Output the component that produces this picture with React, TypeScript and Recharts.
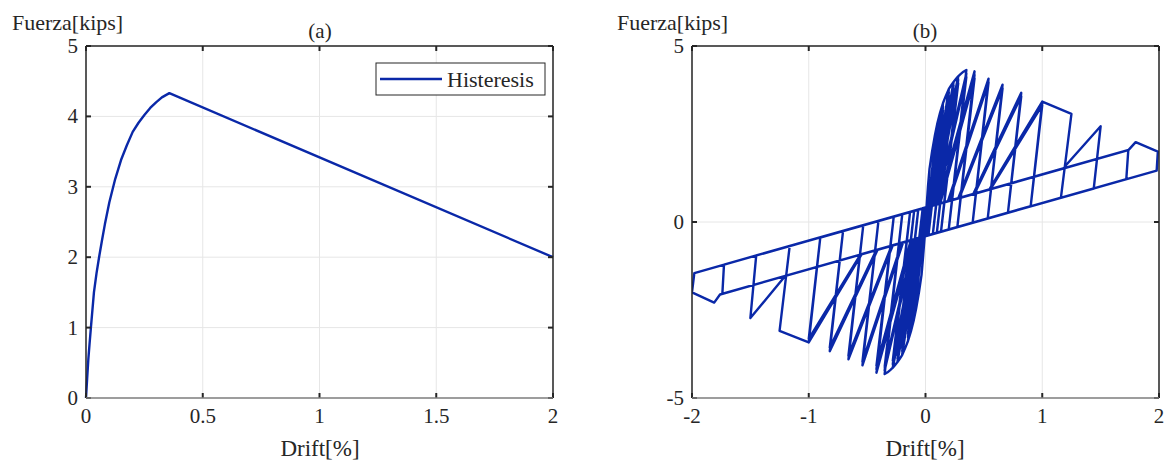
import React from 'react';
import { LineChart, Line, XAxis, YAxis, CartesianGrid } from 'recharts';

const FONT = '"Liberation Serif", "Times New Roman", serif';
const BLUE = '#0a28a8';
const AXIS_DARK = '#262626';
const GRID = '#e6e6e6';

// curva envolvente (a): drift [%] vs fuerza [kips]
const backboneDrift = [0, 0.005, 0.01, 0.015, 0.021, 0.034, 0.045, 0.056, 0.068, 0.081, 0.1, 0.125, 0.15, 0.175, 0.2, 0.225, 0.25, 0.275, 0.3, 0.325, 0.357, 2];
const backboneForce = [0, 0.28, 0.55, 0.76, 1.0, 1.5, 1.77, 2.0, 2.23, 2.47, 2.78, 3.11, 3.38, 3.59, 3.78, 3.91, 4.02, 4.12, 4.2, 4.27, 4.33, 2.0];

// histeresis (b), [drift, fuerza] en el orden del protocolo de carga
const cyclesSmall: [number, number][] = [
  [0, 0], [0.021, 1.0], [0.034, 1.5], [0.056, 2.0], [0.081, 2.47], [0.1, 2.78], [-0.007, -0.41],
  [-0.021, -1.0], [-0.034, -1.5], [-0.056, -2.0], [-0.081, -2.47], [-0.1, -2.78], [0.007, 0.42],
  [0.043, 0.45], [0.1, 2.68], [-0.007, -0.41], [-0.043, -0.44], [-0.1, -2.68], [0.007, 0.42],
  [0.053, 0.46], [0.1, 2.58], [-0.007, -0.41], [-0.053, -0.45], [-0.1, -2.58], [0.007, 0.42],
  [0.033, 0.44], [0.1, 2.78], [0.125, 3.11], [0.008, -0.39], [-0.033, -0.43], [-0.1, -2.78], [-0.125, -3.11], [-0.008, 0.4],
  [0.046, 0.45], [0.125, 3.01], [0.008, -0.39], [-0.046, -0.44], [-0.125, -3.01], [-0.008, 0.4],
  [0.056, 0.46], [0.125, 2.91], [0.008, -0.39], [-0.056, -0.45], [-0.125, -2.91], [-0.008, 0.4],
  [0.036, 0.44], [0.125, 3.11], [0.15, 3.38], [0.025, -0.38], [-0.036, -0.43], [-0.125, -3.11], [-0.15, -3.38], [-0.024, 0.39],
  [0.051, 0.46], [0.15, 3.28], [0.025, -0.38], [-0.051, -0.45], [-0.15, -3.28], [-0.024, 0.39],
  [0.061, 0.47], [0.15, 3.18], [0.025, -0.38], [-0.061, -0.46], [-0.15, -3.18], [-0.024, 0.39],
  [0.041, 0.45], [0.15, 3.38], [0.175, 3.59], [0.2, 3.78], [0.063, -0.34], [-0.041, -0.44], [-0.15, -3.38], [-0.175, -3.59], [-0.2, -3.78], [-0.062, 0.35],
  [0.059, 0.47], [0.2, 3.68], [0.063, -0.34], [-0.059, -0.46], [-0.2, -3.68], [-0.062, 0.35],
  [0.069, 0.47], [0.2, 3.58], [0.063, -0.34], [-0.069, -0.46], [-0.2, -3.58], [-0.062, 0.35],
];

const cyclesMid: [number, number][] = [
  [0.049, 0.46], [0.2, 3.78], [0.225, 3.91], [0.24, 3.98], [0.097, -0.31], [-0.049, -0.45], [-0.2, -3.78], [-0.225, -3.91], [-0.24, -3.98], [-0.097, 0.32],
  [0.065, 0.47], [0.24, 3.88], [0.097, -0.31], [-0.065, -0.46], [-0.24, -3.88], [-0.097, 0.32],
  [0.075, 0.48], [0.24, 3.78], [0.097, -0.31], [-0.075, -0.47], [-0.24, -3.78], [-0.097, 0.32],
  [0.055, 0.46], [0.24, 3.98], [0.26, 4.06], [0.28, 4.14], [0.133, -0.27], [-0.055, -0.45], [-0.24, -3.98], [-0.26, -4.06], [-0.28, -4.14], [-0.132, 0.29],
  [0.074, 0.48], [0.28, 4.04], [0.133, -0.27], [-0.074, -0.47], [-0.28, -4.04], [-0.132, 0.29],
  [0.084, 0.49], [0.28, 3.94], [0.133, -0.27], [-0.084, -0.48], [-0.28, -3.94], [-0.132, 0.29],
  [0.064, 0.47], [0.28, 4.14], [0.3, 4.2], [0.325, 4.27], [0.35, 4.32], [0.199, -0.21], [-0.064, -0.46], [-0.28, -4.14], [-0.3, -4.2], [-0.325, -4.27], [-0.35, -4.32], [-0.199, 0.22],
  [0.086, 0.49], [0.35, 4.22], [0.199, -0.21], [-0.086, -0.48], [-0.35, -4.22], [-0.199, 0.22],
  [0.096, 0.5], [0.35, 4.12], [0.199, -0.21], [-0.096, -0.49], [-0.35, -4.12], [-0.199, 0.22],
  [0.106, 0.51], [0.42, 4.28], [0.273, -0.14], [-0.106, -0.5], [-0.42, -4.28], [-0.272, 0.15],
  [0.116, 0.52], [0.42, 4.18], [0.273, -0.14], [-0.116, -0.51], [-0.42, -4.18], [-0.272, 0.15],
  [0.126, 0.53], [0.42, 4.08], [0.273, -0.14], [-0.126, -0.52], [-0.42, -4.08], [-0.272, 0.15],
  [0.192, 0.59], [0.54, 4.07], [0.404, -0.02], [-0.192, -0.58], [-0.54, -4.07], [-0.403, 0.03],
  [0.202, 0.6], [0.54, 3.97], [0.404, -0.02], [-0.202, -0.59], [-0.54, -3.97], [-0.403, 0.03],
];

const cyclesLarge: [number, number][] = [
  [0.28, 0.67], [0.66, 3.9], [0.533, 0.1], [-0.28, -0.66], [-0.66, -3.9], [-0.533, -0.09],
  [0.29, 0.68], [0.66, 3.8], [0.533, 0.1], [-0.29, -0.67], [-0.66, -3.8], [-0.533, -0.09],
  [0.41, 0.8], [0.82, 3.67], [0.706, 0.26], [-0.41, -0.79], [-0.82, -3.67], [-0.706, -0.25],
  [0.42, 0.8], [0.82, 3.57], [0.706, 0.26], [-0.42, -0.79], [-0.82, -3.57], [-0.706, -0.25],
  [0.546, 0.92], [1.0, 3.42], [0.901, 0.45], [-0.546, -0.91], [-1.0, -3.42], [-0.901, -0.44],
  [0.556, 0.93], [1.0, 3.32], [0.901, 0.45], [-0.556, -0.92], [-1.0, -3.32], [-0.901, -0.44],
];

const cyclesFailure: [number, number][] = [
  [0.546, 0.92], [1.0, 3.42], [1.25, 3.07], [1.16, 0.69], [-0.546, -0.91], [-1.0, -3.42], [-1.25, -3.09], [-1.163, -0.68],
  [1.178, 1.52], [1.5, 2.72], [1.441, 0.95], [-1.2, -1.53], [-1.5, -2.73], [-1.45, -0.95],
  [1.737, 2.04], [1.72, 1.22], [-1.74, -2.04], [-1.726, -1.21],
  [1.74, 2.05], [1.8, 2.27], [1.99, 2.0], [1.98, 1.46], [-1.76, -2.06], [-1.81, -2.29], [-2.0, -2.0], [-1.98, -1.45], [-0.5, -0.06],
];

const ticksA_x = [0, 0.5, 1, 1.5, 2];
const ticksA_y = [0, 1, 2, 3, 4, 5];
const ticksB_x = [-2, -1, 0, 1, 2];
const ticksB_y = [-5, 0, 5];

const backboneData = backboneDrift.map((d, i) => ({ d, f: backboneForce[i] }));
const hysteresisData = [...cyclesSmall, ...cyclesMid, ...cyclesLarge, ...cyclesFailure].map(([d, f]) => ({ d, f }));

// geometria de los ejes (px de pagina)
const W = 1165;
const H = 461;
const TOP = 46;
const BOTTOM = 398;
const A_LEFT = 86;
const A_RIGHT = 553;
const B_LEFT = 692;
const B_RIGHT = 1159;
const TICK_LEN = 5;
const X_AXIS_H = 30;
const Y_AXIS_W = 40;

const XTick = (props: any) => {
  const { x, payload } = props;
  return (
    <g>
      <line x1={x} x2={x} y1={BOTTOM} y2={BOTTOM - TICK_LEN} stroke={AXIS_DARK} strokeWidth={2} />
      <line x1={x} x2={x} y1={TOP} y2={TOP + TICK_LEN} stroke={AXIS_DARK} strokeWidth={2} />
      <text x={x} y={416} textAnchor="middle" dominantBaseline="central" fontFamily={FONT} fontSize={21} fill="#262626">
        {String(payload.value)}
      </text>
    </g>
  );
};

const makeYTick = (left: number, right: number) => (props: any) => {
  const { y, payload } = props;
  return (
    <g>
      <line x1={left} x2={left + TICK_LEN} y1={y} y2={y} stroke={AXIS_DARK} strokeWidth={2} />
      <line x1={right} x2={right - TICK_LEN} y1={y} y2={y} stroke={AXIS_DARK} strokeWidth={2} />
      <text x={left - 8} y={y} textAnchor="end" dominantBaseline="central" fontFamily={FONT} fontSize={21} fill="#262626">
        {String(payload.value)}
      </text>
    </g>
  );
};

const yTickA = makeYTick(A_LEFT, A_RIGHT);
const yTickB = makeYTick(B_LEFT, B_RIGHT);

const Box = ({ left, right }: { left: number; right: number }) => (
  <g>
    <line x1={left} x2={right} y1={TOP} y2={TOP} stroke={AXIS_DARK} strokeWidth={1.5} />
    <line x1={right} x2={right} y1={TOP} y2={BOTTOM} stroke={AXIS_DARK} strokeWidth={1.5} />
    <line x1={left} x2={left} y1={TOP} y2={BOTTOM} stroke={AXIS_DARK} strokeWidth={1.5} />
    <line x1={left} x2={right} y1={BOTTOM} y2={BOTTOM} stroke="#808080" strokeWidth={1.5} />
  </g>
);

const txt = { fontFamily: FONT, fill: '#262626' };

export default function App() {
  return (
    <div style={{ position: 'absolute', left: 0, top: 0, width: W, height: H, background: '#fff' }}>
      <div style={{ position: 'absolute', left: 0, top: 0 }}>
        <LineChart width={W} height={H} data={backboneData}
          margin={{ top: TOP, bottom: H - BOTTOM - X_AXIS_H, left: A_LEFT - Y_AXIS_W, right: W - A_RIGHT }}>
          <CartesianGrid stroke={GRID} strokeWidth={1} />
          <XAxis dataKey="d" type="number" domain={[0, 2]} ticks={ticksA_x} interval={0} height={X_AXIS_H}
            axisLine={false} tickLine={false} tick={(p: any) => <XTick {...p} />} />
          <YAxis type="number" domain={[0, 5]} ticks={ticksA_y} interval={0} width={Y_AXIS_W}
            axisLine={false} tickLine={false} tick={(p: any) => yTickA(p)} />
          <Line type="linear" dataKey="f" stroke={BLUE} strokeWidth={2.4} strokeLinejoin="round" dot={false} isAnimationActive={false} />
        </LineChart>
      </div>
      <div style={{ position: 'absolute', left: 0, top: 0 }}>
        <LineChart width={W} height={H} data={hysteresisData}
          margin={{ top: TOP, bottom: H - BOTTOM - X_AXIS_H, left: B_LEFT - Y_AXIS_W, right: W - B_RIGHT }}>
          <CartesianGrid stroke={GRID} strokeWidth={1} />
          <XAxis dataKey="d" type="number" domain={[-2, 2]} ticks={ticksB_x} interval={0} height={X_AXIS_H}
            axisLine={false} tickLine={false} tick={(p: any) => <XTick {...p} />} allowDataOverflow />
          <YAxis type="number" domain={[-5, 5]} ticks={ticksB_y} interval={0} width={Y_AXIS_W}
            axisLine={false} tickLine={false} tick={(p: any) => yTickB(p)} allowDataOverflow />
          <Line type="linear" dataKey="f" stroke={BLUE} strokeWidth={2.4} strokeLinejoin="round" dot={false} isAnimationActive={false} />
        </LineChart>
      </div>
      <svg width={W} height={H} style={{ position: 'absolute', left: 0, top: 0, pointerEvents: 'none' }}>
        <Box left={A_LEFT} right={A_RIGHT} />
        <Box left={B_LEFT} right={B_RIGHT} />

        <text x={12} y={22} dominantBaseline="central" fontSize={22} {...txt}>Fuerza[kips]</text>
        <text x={320} y={31} textAnchor="middle" dominantBaseline="central" fontSize={21} {...txt}>(a)</text>
        <text x={320} y={448} textAnchor="middle" dominantBaseline="central" fontSize={23} {...txt}>Drift[%]</text>

        <text x={617} y={22} dominantBaseline="central" fontSize={22} {...txt}>Fuerza[kips]</text>
        <text x={925} y={31} textAnchor="middle" dominantBaseline="central" fontSize={21} {...txt}>(b)</text>
        <text x={925} y={448} textAnchor="middle" dominantBaseline="central" fontSize={23} {...txt}>Drift[%]</text>

        <rect x={376} y={63} width={169} height={32} fill="#fff" stroke={AXIS_DARK} strokeWidth={1} />
        <line x1={380} x2={442} y1={79} y2={79} stroke={BLUE} strokeWidth={2.4} />
        <text x={447} y={79} dominantBaseline="central" fontSize={22} {...txt}>Histeresis</text>
      </svg>
    </div>
  );
}
